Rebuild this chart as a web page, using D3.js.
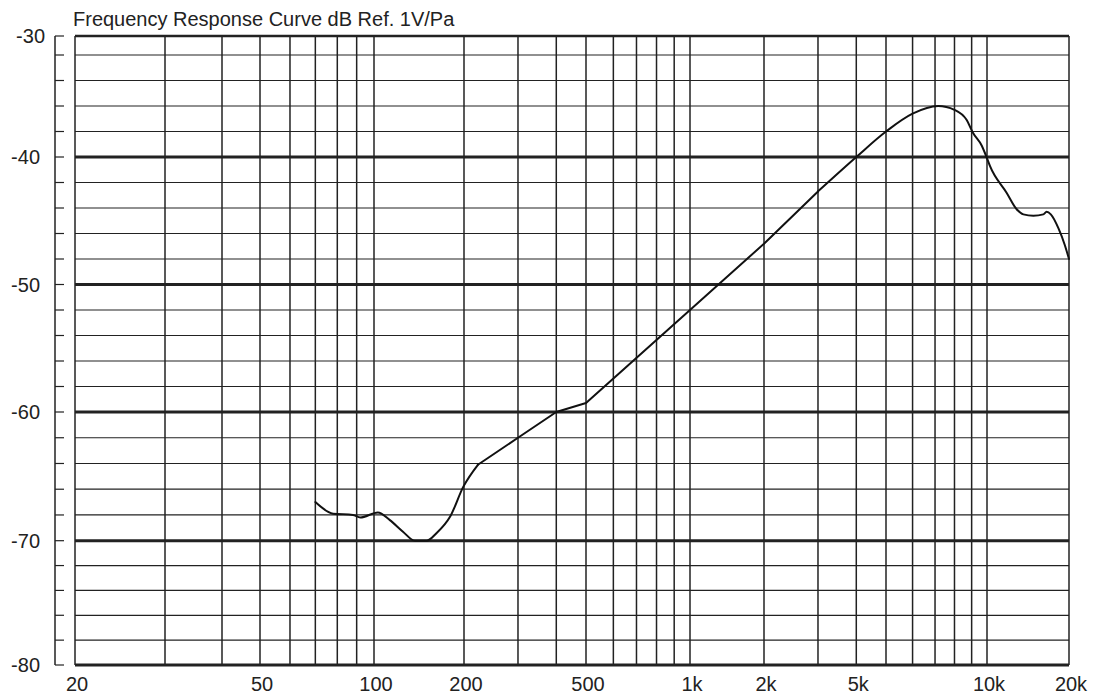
<!DOCTYPE html>
<html>
<head>
<meta charset="utf-8">
<script src="https://cdn.jsdelivr.net/npm/d3@7"></script>
<style>
  body { margin: 0; background: #fff; }
  svg { display: block; font-family: "Liberation Sans", Arial, sans-serif; }
</style>
</head>
<body>
<svg id="chart" width="1094" height="694"></svg>
<script>
'use strict';

// response curve (Hz, dB re 1V/Pa)
var freqs = [70, 78, 88, 92, 103, 113, 125, 137, 150, 162, 180, 199, 222,
             300, 400, 500, 1000, 2000, 3000, 4000, 5000, 6000, 7150, 8000, 8700,
             9080, 9640, 10000, 10250, 11800, 12850, 13600, 14800, 16100, 16550,
             17150, 18300, 19300, 20000];
var levels = [-67.0, -67.9, -68.0, -68.2, -67.8, -68.4, -69.3, -70.0, -70.0, -69.4, -68.1, -65.8, -64.1,
              -62.0, -60.0, -59.3, -52.0, -46.8, -42.7, -40.0, -38.0, -36.6, -36.0, -36.3, -37.1,
              -38.1, -39.1, -40.1, -40.7, -42.8, -44.1, -44.5, -44.6, -44.5, -44.3,
              -44.5, -45.6, -46.9, -48.0];

// axis labels as printed (the sheet puts "5k" under the 4k line)
var xLabelValues = [20, 50, 100, 200, 500, 1000, 2000, 4000, 10000, 20000];
var xLabelTexts = ['20', '50', '100', '200', '500', '1k', '2k', '5k', '10k', '20k'];
var yLabelValues = [-30, -40, -50, -60, -70, -80];

var title = 'Frequency Response Curve dB Ref. 1V/Pa';

(function () {
    var svg = d3.select('#chart');

    // the scanned sheet is not an exact log grid, so the scale is piecewise
    var x = d3.scaleLog()
        .domain([20, 30, 40, 50, 100, 200, 500, 1000, 2000, 5000, 10000, 20000])
        .range([75, 165, 222, 260, 374, 464, 586, 690, 764, 886, 987, 1069]);

    var y = d3.scaleLinear()
        .domain([-80, -70, -60, -50, -40, -32, -30])
        .range([665, 540.7, 412, 284.5, 157, 55, 36]);

    var x0 = x(20), x1 = x(20000), y0 = y(-30), y1 = y(-80);

    //title
    svg.append('text')
        .attr('x', 73).attr('y', 26)
        .attr('font-size', 20)
        .attr('fill', '#222')
        .text(title);

    //horizontal grid, every 2 dB
    var grid = svg.append('g').attr('id', 'grid');
    grid.selectAll('.hline')
        .data(d3.range(-78, -30, 2))
      .enter().append('line')
        .attr('class', 'hline')
        .attr('x1', x0).attr('x2', x1)
        .attr('y1', function (d) { return y(d); })
        .attr('y2', function (d) { return y(d); })
        .attr('stroke', '#222')
        .attr('stroke-width', function (d) { return d % 10 === 0 ? 3 : 1.2; });

    //vertical grid, 1..9 per decade
    grid.selectAll('.vline')
        .data(x.ticks().filter(function (d) { return d > 20 && d < 20000; }))
      .enter().append('line')
        .attr('class', 'vline')
        .attr('x1', function (d) { return x(d); })
        .attr('x2', function (d) { return x(d); })
        .attr('y1', y0).attr('y2', y1)
        .attr('stroke', '#222')
        .attr('stroke-width', 1.5);

    //frame
    grid.append('line').attr('x1', x0).attr('x2', x1).attr('y1', y0).attr('y2', y0)
        .attr('stroke', '#222').attr('stroke-width', 2.5);
    grid.append('line').attr('x1', x0).attr('x2', x1).attr('y1', y1).attr('y2', y1)
        .attr('stroke', '#222').attr('stroke-width', 3);
    grid.append('line').attr('x1', x0).attr('x2', x0).attr('y1', y0).attr('y2', y1)
        .attr('stroke', '#222').attr('stroke-width', 1.5);
    grid.append('line').attr('x1', x1).attr('x2', x1).attr('y1', y0).attr('y2', y1)
        .attr('stroke', '#222').attr('stroke-width', 1.5);

    //separate tick rail on the left
    var rail = svg.append('g').attr('id', 'rail');
    rail.append('line')
        .attr('x1', 55).attr('x2', 55).attr('y1', y0).attr('y2', y1)
        .attr('stroke', '#222').attr('stroke-width', 1.5);
    rail.selectAll('.tick')
        .data(d3.range(-80, -29, 2))
      .enter().append('line')
        .attr('class', 'tick')
        .attr('x1', 55).attr('x2', 64)
        .attr('y1', function (d) { return y(d); })
        .attr('y2', function (d) { return y(d); })
        .attr('stroke', '#222').attr('stroke-width', 1.2);

    //y labels
    svg.selectAll('.ylab')
        .data(yLabelValues)
      .enter().append('text')
        .attr('class', 'ylab')
        .attr('x', function (d) { return d === -30 ? 45 : 40; })
        .attr('y', function (d) { return y(d); })
        .attr('dy', '0.35em')
        .attr('text-anchor', 'end')
        .attr('font-size', 20)
        .attr('fill', '#222')
        .text(function (d) { return d; });

    //x labels
    svg.selectAll('.xlab')
        .data(xLabelValues)
      .enter().append('text')
        .attr('class', 'xlab')
        .attr('x', function (d) { return x(d) + 2; })
        .attr('y', 691)
        .attr('text-anchor', 'middle')
        .attr('font-size', 20)
        .attr('fill', '#222')
        .text(function (d, i) { return xLabelTexts[i]; });

    //response curve: smooth parts and the straight ruled stretch between 222 Hz and 3 kHz
    var pts = freqs.map(function (f, i) { return [f, levels[i]]; });
    var pieces = [
        [70, 222, d3.curveMonotoneX],
        [222, 3000, d3.curveLinear],
        [3000, 10000, d3.curveMonotoneX],
        [10000, 20000, d3.curveMonotoneX]
    ];

    var curveG = svg.append('g').attr('id', 'curve');
    pieces.forEach(function (p) {
        var seg = pts.filter(function (d) { return d[0] >= p[0] && d[0] <= p[1]; });
        var line = d3.line()
            .x(function (d) { return x(d[0]); })
            .y(function (d) { return y(d[1]); })
            .curve(p[2]);
        curveG.append('path')
            .datum(seg)
            .attr('d', line)
            .attr('fill', 'none')
            .attr('stroke', '#111')
            .attr('stroke-width', 2)
            .attr('stroke-linecap', 'round')
            .attr('stroke-linejoin', 'round');
    });
})();
</script>
</body>
</html>
